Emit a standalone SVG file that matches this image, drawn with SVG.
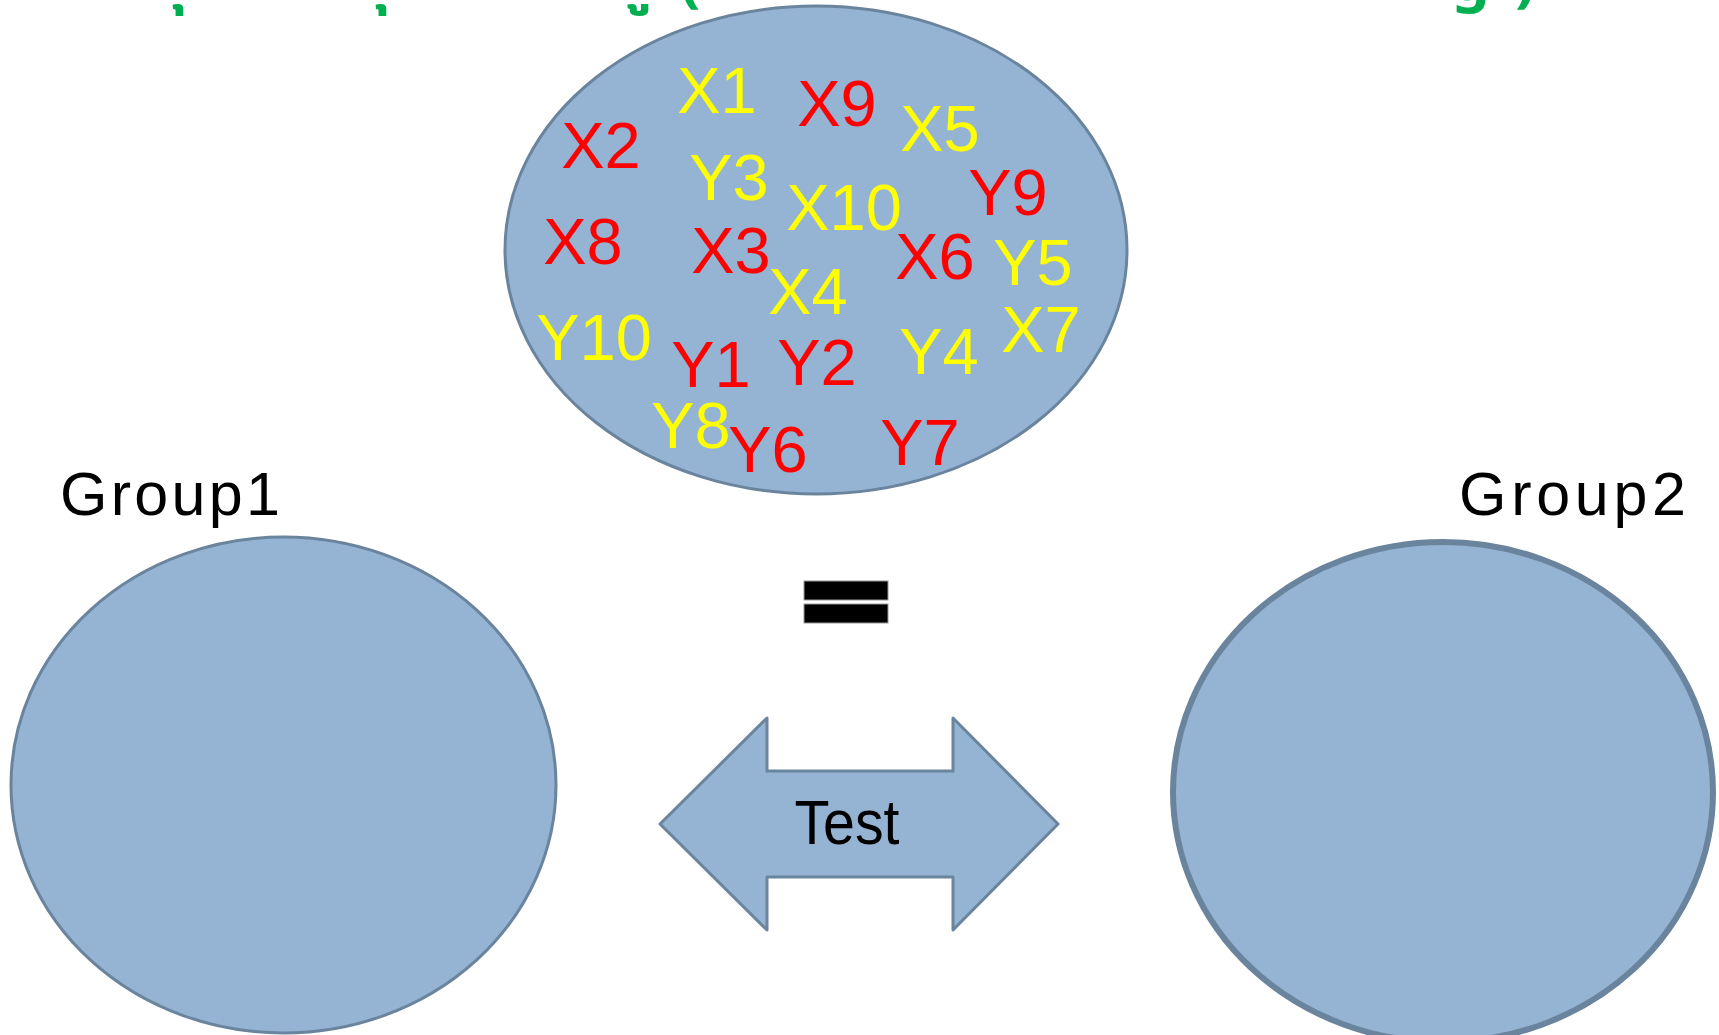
<svg xmlns="http://www.w3.org/2000/svg" width="1719" height="1035" viewBox="0 0 1719 1035">
<style>
.shape{fill:#95B3D3;stroke:#6A849D;stroke-width:3}
.lbl{font-family:"Liberation Sans",Arial,sans-serif;font-size:65px;text-anchor:middle}
.y{fill:#FFFF00}
.r{fill:#FF0000}
.grp{font-family:"Liberation Sans",Arial,sans-serif;font-size:61px;fill:#000000}
.title{font-family:"Noto Sans Thai","Liberation Sans","DejaVu Sans",sans-serif;font-size:60px;font-weight:bold;fill:#00B050}
</style>
<rect x="0" y="0" width="1719" height="1035" fill="#FFFFFF"/>
<g id="title">
<text class="title" x="150" y="0">กุ</text>
<text class="title" x="353" y="0">กุ</text>
<text class="title" x="615" y="0">กู</text>
<text class="title" x="680" y="0">(</text>
<text class="title" x="1452" y="0">g</text>
<text class="title" x="1515" y="0">)</text>
</g>
<g id="population">
<ellipse class="shape" cx="816" cy="250" rx="311" ry="244"/>
<text class="lbl y" x="717" y="113">X1</text>
<text class="lbl r" x="837" y="126">X9</text>
<text class="lbl y" x="940" y="151">X5</text>
<text class="lbl r" x="601" y="168">X2</text>
<text class="lbl y" x="729" y="200">Y3</text>
<text class="lbl y" x="844" y="230">X10</text>
<text class="lbl r" x="1008" y="215">Y9</text>
<text class="lbl r" x="583" y="264">X8</text>
<text class="lbl r" x="731" y="273">X3</text>
<text class="lbl r" x="935" y="279">X6</text>
<text class="lbl y" x="1033" y="285">Y5</text>
<text class="lbl y" x="808" y="314">X4</text>
<text class="lbl y" x="594" y="360">Y10</text>
<text class="lbl y" x="1041" y="352">X7</text>
<text class="lbl r" x="711" y="387">Y1</text>
<text class="lbl r" x="817" y="385">Y2</text>
<text class="lbl y" x="939" y="374">Y4</text>
<text class="lbl y" x="691" y="448">Y8</text>
<text class="lbl r" x="768" y="472">Y6</text>
<text class="lbl r" x="920" y="465">Y7</text>
</g>
<g id="group1">
<text class="grp" x="60" y="515" textLength="220" lengthAdjust="spacing">Group1</text>
<ellipse class="shape" cx="283.5" cy="785" rx="272.5" ry="248"/>
</g>
<g id="group2">
<text class="grp" x="1459" y="515" textLength="227" lengthAdjust="spacing">Group2</text>
<ellipse class="shape" cx="1443" cy="792" rx="270" ry="250" style="stroke-width:6"/>
</g>
<g id="equals">
<rect x="804" y="581" width="84" height="19" fill="#000000" stroke="#999999" stroke-width="1"/>
<rect x="804" y="604" width="84" height="19" fill="#000000" stroke="#999999" stroke-width="1"/>
</g>
<g id="connectors">
<g id="test-arrow">
<path class="shape" stroke-linejoin="round" d="M660,824 L767,718 L767,771 L953,771 L953,718 L1058,824 L953,930 L953,877 L767,877 L767,930 Z"/>
<text x="847" y="844" font-family="Liberation Sans, Arial, sans-serif" font-size="63" text-anchor="middle" fill="#000000" textLength="105" lengthAdjust="spacingAndGlyphs">Test</text>
</g>
</g>
</svg>
